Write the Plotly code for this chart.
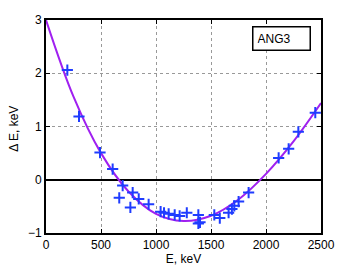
import plotly.graph_objects as go

# measured points (E, keV ; Delta E, keV)
E_pts = [194, 300, 491, 606, 666, 697, 767, 788, 843, 933, 1042, 1073, 1115, 1170,
         1215, 1280, 1385, 1385, 1400, 1530, 1580, 1660, 1690, 1712, 1751, 1842,
         2115, 2206, 2294, 2448]
dE_pts = [2.06, 1.19, 0.51, 0.20, -0.34, -0.11, -0.52, -0.24, -0.36, -0.46, -0.60, -0.62,
          -0.64, -0.66, -0.68, -0.62, -0.66, -0.82, -0.80, -0.66, -0.72, -0.62, -0.55,
          -0.49, -0.41, -0.24, 0.41, 0.58, 0.90, 1.26]

# fitted curve
E_fit = [0, 250, 500, 750, 1000, 1250, 1500, 1750, 2000, 2250, 2500]
dE_fit = [3.00, 1.56, 0.50, -0.22, -0.64, -0.775, -0.675, -0.37, 0.11, 0.72, 1.44]

x_ticks = [0, 500, 1000, 1500, 2000, 2500]
y_ticks = [-1, 0, 1, 2, 3]
y_tick_text = ["\u22121", "0", "1", "2", "3"]

FONT = "Liberation Sans, Arial, sans-serif"

fig = go.Figure()
fig.add_trace(go.Scatter(x=E_fit, y=dE_fit, mode="lines", line_shape="spline",
                         line=dict(color="#a020f0", width=2), showlegend=False))
fig.add_trace(go.Scatter(x=E_pts, y=dE_pts, mode="markers",
                         marker=dict(symbol="cross-thin", size=8,
                                     line=dict(color="#1f3cff", width=2)),
                         showlegend=False))

axis_common = dict(showline=True, linecolor="black", linewidth=2, mirror="allticks",
                   ticks="inside", ticklen=4, tickwidth=1, tickcolor="black",
                   showgrid=True, gridcolor="#999999", griddash="dot", gridwidth=1,
                   automargin=False,
                   tickfont=dict(family=FONT, size=12, color="black"))

fig.update_xaxes(range=[0, 2500], tickvals=x_ticks, zeroline=False,
                 title=dict(text="E, keV", standoff=0,
                            font=dict(family=FONT, size=12, color="black")),
                 **axis_common)
fig.update_yaxes(range=[-1, 3], tickvals=y_ticks, ticktext=y_tick_text,
                 zeroline=True, zerolinecolor="black", zerolinewidth=2,
                 **axis_common)

# y-axis title
fig.add_annotation(xref="paper", yref="paper", x=-0.116, y=0.49, xanchor="center", yanchor="middle",
                   text="\u0394 E, keV", textangle=-90, showarrow=False,
                   font=dict(family=FONT, size=12, color="black"))

fig.add_annotation(xref="paper", yref="paper", x=0.962, y=0.97, xanchor="right", yanchor="top",
                   text="ANG3", showarrow=False, bordercolor="black", borderwidth=1.5,
                   borderpad=4, bgcolor="white", width=48, align="left",
                   font=dict(family=FONT, size=12, color="black"))

# page body has an 8px default margin, so the figure is sized to fit the window
fig.update_layout(width=346, height=258, margin=dict(l=38, r=33, t=12, b=33),
                  paper_bgcolor="white", plot_bgcolor="white")

fig.write_html("out.html")
